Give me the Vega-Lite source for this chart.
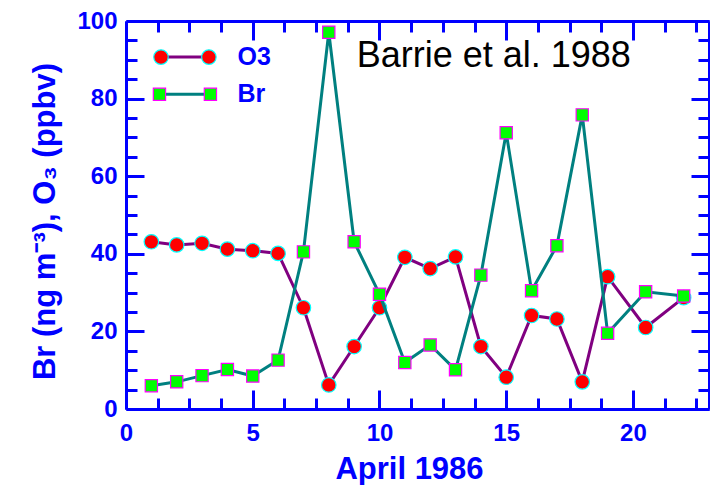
{
  "$schema": "https://vega.github.io/schema/vega-lite/v6.json",
  "width": 583,
  "height": 388,
  "autosize": {"type": "none"},
  "padding": {"left": 126, "top": 21, "right": 1, "bottom": 76},
  "background": "white",
  "config": {"view": {"stroke": null}, "font": "Liberation Sans"},
  "datasets": {
    "obs": [
      {"day": 1, "series": "O3", "value": 43.1},
      {"day": 2, "series": "O3", "value": 42.3},
      {"day": 3, "series": "O3", "value": 42.7},
      {"day": 4, "series": "O3", "value": 41.2},
      {"day": 5, "series": "O3", "value": 40.8},
      {"day": 6, "series": "O3", "value": 40.1},
      {"day": 7, "series": "O3", "value": 26.1},
      {"day": 8, "series": "O3", "value": 6.2},
      {"day": 9, "series": "O3", "value": 16.1},
      {"day": 10, "series": "O3", "value": 26.1},
      {"day": 11, "series": "O3", "value": 39.1},
      {"day": 12, "series": "O3", "value": 36.2},
      {"day": 13, "series": "O3", "value": 39.2},
      {"day": 14, "series": "O3", "value": 16.1},
      {"day": 15, "series": "O3", "value": 8.2},
      {"day": 16, "series": "O3", "value": 24.1},
      {"day": 17, "series": "O3", "value": 23.2},
      {"day": 18, "series": "O3", "value": 7.0},
      {"day": 19, "series": "O3", "value": 34.1},
      {"day": 20.5, "series": "O3", "value": 21.0},
      {"day": 22, "series": "O3", "value": 28.7},
      {"day": 1, "series": "Br", "value": 6.0},
      {"day": 2, "series": "Br", "value": 7.0},
      {"day": 3, "series": "Br", "value": 8.6},
      {"day": 4, "series": "Br", "value": 10.2},
      {"day": 5, "series": "Br", "value": 8.5},
      {"day": 6, "series": "Br", "value": 12.6},
      {"day": 7, "series": "Br", "value": 40.5},
      {"day": 8, "series": "Br", "value": 97.1},
      {"day": 9, "series": "Br", "value": 43.1},
      {"day": 10, "series": "Br", "value": 29.6},
      {"day": 11, "series": "Br", "value": 12.0},
      {"day": 12, "series": "Br", "value": 16.5},
      {"day": 13, "series": "Br", "value": 10.1},
      {"day": 14, "series": "Br", "value": 34.5},
      {"day": 15, "series": "Br", "value": 71.2},
      {"day": 16, "series": "Br", "value": 30.5},
      {"day": 17, "series": "Br", "value": 42.1},
      {"day": 18, "series": "Br", "value": 75.8},
      {"day": 19, "series": "Br", "value": 19.5},
      {"day": 20.5, "series": "Br", "value": 30.2},
      {"day": 22, "series": "Br", "value": 29.1}
    ],
    "legend": [
      {"lx": 1.38, "ly": 90.7, "series": "O3"},
      {"lx": 3.27, "ly": 90.7, "series": "O3"},
      {"lx": 1.32, "ly": 81.1, "series": "Br"},
      {"lx": 3.33, "ly": 81.1, "series": "Br"}
    ],
    "legendText": [
      {"lx": 4.4, "ly": 90.7, "label": "O3"},
      {"lx": 4.4, "ly": 81.1, "label": "Br"}
    ],
    "note": [
      {"lx": 9.1, "ly": 88.2, "label": "Barrie et al. 1988"}
    ]
  },
  "layer": [
    {
      "data": {"name": "obs"},
      "transform": [{"filter": "datum.series === 'O3'"}],
      "mark": {"type": "line", "color": "#800080", "strokeWidth": 3},
      "encoding": {
        "x": {
          "field": "day", "type": "quantitative",
          "scale": {"domain": [0, 23], "nice": false, "zero": false},
          "axis": {
            "orient": "bottom",
            "values": [0,1.25,2.5,3.75,5,6.25,7.5,8.75,10,11.25,12.5,13.75,15,16.25,17.5,18.75,20,21.25,22.5],
            "labelExpr": "datum.value % 5 === 0 ? datum.label : ''",
            "tickSize": {"condition": {"test": "datum.value % 5 === 0", "value": -19}, "value": -11},
            "tickWidth": 3, "tickColor": "#0000FF",
            "domainWidth": 3, "domainColor": "#0000FF",
            "labelColor": "#0000FF", "labelFontSize": 24, "labelFontWeight": "bold",
            "labelPadding": 31, "labelFlush": false, "labelOverlap": false,
            "grid": false,
            "title": "April 1986", "titleColor": "#0000FF", "titleFontSize": 31,
            "titleFontWeight": "bold", "titlePadding": 1, "titleX": 283
          }
        },
        "y": {
          "field": "value", "type": "quantitative",
          "scale": {"domain": [0, 100], "nice": false},
          "axis": {
            "orient": "left",
            "values": [0,5,10,15,20,25,30,35,40,45,50,55,60,65,70,75,80,85,90,95,100],
            "labelExpr": "datum.value % 20 === 0 ? datum.label : ''",
            "tickSize": {"condition": {"test": "datum.value % 20 === 0", "value": -18}, "value": -11},
            "tickWidth": 3, "tickColor": "#0000FF",
            "domainWidth": 3, "domainColor": "#0000FF",
            "labelColor": "#0000FF", "labelFontSize": 24, "labelFontWeight": "bold",
            "labelPadding": 27, "labelFlush": false, "labelOverlap": false,
            "grid": false,
            "title": "Br (ng m⁻³), O₃ (ppbv)", "titleColor": "#0000FF", "titleFontSize": 31,
            "titleFontWeight": "bold", "titlePadding": 15, "titleY": 200
          }
        }
      }
    },
    {
      "data": {"name": "obs"},
      "transform": [{"filter": "datum.series === 'O3'"}],
      "mark": {"type": "point", "shape": "circle", "filled": true, "fill": "#FF0000", "stroke": "#00FFFF", "strokeWidth": 1.2, "size": 210, "opacity": 1},
      "encoding": {
        "x": {
          "field": "day", "type": "quantitative",
          "axis": {
            "orient": "top",
            "values": [0,1.25,2.5,3.75,5,6.25,7.5,8.75,10,11.25,12.5,13.75,15,16.25,17.5,18.75,20,21.25,22.5],
            "labels": false, "title": null, "grid": false,
            "tickSize": {"condition": {"test": "datum.value % 5 === 0", "value": -19}, "value": -11},
            "tickWidth": 3, "tickColor": "#0000FF",
            "domainWidth": 3, "domainColor": "#0000FF"
          }
        },
        "y": {
          "field": "value", "type": "quantitative",
          "axis": {
            "orient": "right",
            "values": [0,5,10,15,20,25,30,35,40,45,50,55,60,65,70,75,80,85,90,95,100],
            "labels": false, "title": null, "grid": false,
            "tickSize": {"condition": {"test": "datum.value % 20 === 0", "value": -18}, "value": -11},
            "tickWidth": 3, "tickColor": "#0000FF",
            "domainWidth": 3, "domainColor": "#0000FF"
          }
        }
      }
    },
    {
      "data": {"name": "obs"},
      "transform": [{"filter": "datum.series === 'Br'"}],
      "mark": {"type": "line", "color": "#008080", "strokeWidth": 3},
      "encoding": {
        "x": {"field": "day", "type": "quantitative", "axis": null},
        "y": {"field": "value", "type": "quantitative", "axis": null}
      }
    },
    {
      "data": {"name": "obs"},
      "transform": [{"filter": "datum.series === 'Br'"}],
      "mark": {"type": "point", "shape": "square", "filled": true, "fill": "#00FF00", "stroke": "#FF00FF", "strokeWidth": 1.2, "size": 150, "opacity": 1},
      "encoding": {
        "x": {"field": "day", "type": "quantitative", "axis": null},
        "y": {"field": "value", "type": "quantitative", "axis": null}
      }
    },
    {
      "data": {"name": "legend"},
      "mark": {"type": "line", "strokeWidth": 3},
      "encoding": {
        "x": {"field": "lx", "type": "quantitative", "axis": null},
        "y": {"field": "ly", "type": "quantitative", "axis": null},
        "detail": {"field": "series"},
        "color": {"field": "series", "type": "nominal", "scale": {"domain": ["O3", "Br"], "range": ["#800080", "#008080"]}, "legend": null}
      }
    },
    {
      "data": {"name": "legend"},
      "transform": [{"filter": "datum.series === 'O3'"}],
      "mark": {"type": "point", "shape": "circle", "filled": true, "fill": "#FF0000", "stroke": "#00FFFF", "strokeWidth": 1.2, "size": 210, "opacity": 1},
      "encoding": {
        "x": {"field": "lx", "type": "quantitative", "axis": null},
        "y": {"field": "ly", "type": "quantitative", "axis": null}
      }
    },
    {
      "data": {"name": "legend"},
      "transform": [{"filter": "datum.series === 'Br'"}],
      "mark": {"type": "point", "shape": "square", "filled": true, "fill": "#00FF00", "stroke": "#FF00FF", "strokeWidth": 1.2, "size": 150, "opacity": 1},
      "encoding": {
        "x": {"field": "lx", "type": "quantitative", "axis": null},
        "y": {"field": "ly", "type": "quantitative", "axis": null}
      }
    },
    {
      "data": {"name": "legendText"},
      "mark": {"type": "text", "align": "left", "baseline": "middle", "fontSize": 25, "fontWeight": "bold", "color": "#0000FF"},
      "encoding": {
        "x": {"field": "lx", "type": "quantitative", "axis": null},
        "y": {"field": "ly", "type": "quantitative", "axis": null},
        "text": {"field": "label"}
      }
    },
    {
      "data": {"name": "note"},
      "mark": {"type": "text", "align": "left", "baseline": "alphabetic", "fontSize": 36, "color": "#000000"},
      "encoding": {
        "x": {"field": "lx", "type": "quantitative", "axis": null},
        "y": {"field": "ly", "type": "quantitative", "axis": null},
        "text": {"field": "label"}
      }
    }
  ],
  "resolve": {"axis": {"x": "independent", "y": "independent"}}
}
